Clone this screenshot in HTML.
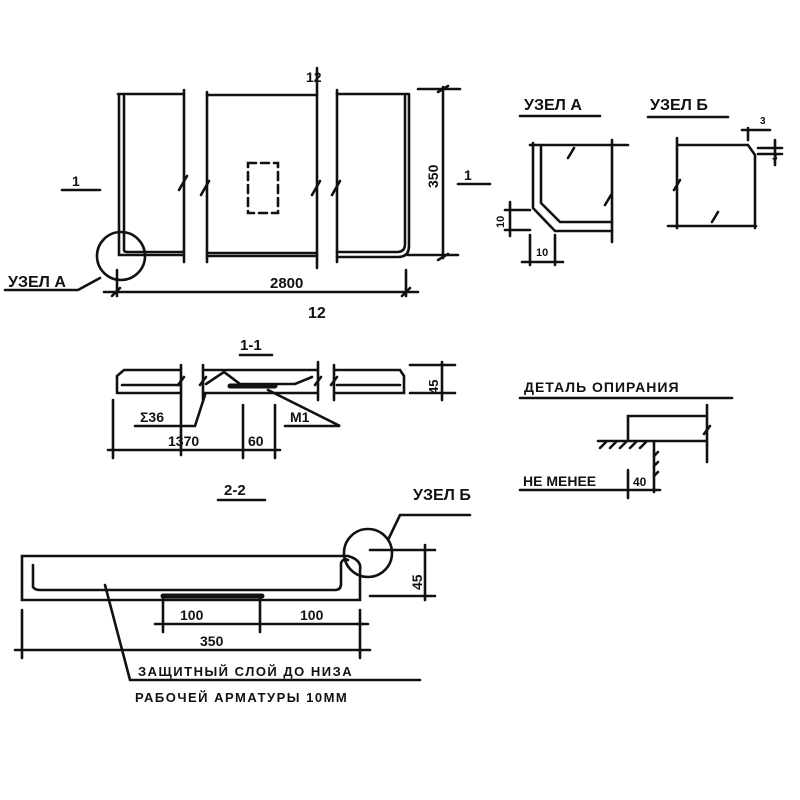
<!DOCTYPE html>
<html><head><meta charset="utf-8"><style>
html,body{margin:0;padding:0;background:#fff;}
svg{display:block}
text{font-family:"Liberation Sans","DejaVu Sans",sans-serif;font-weight:bold;fill:#111;}
</style></head><body>
<svg width="800" height="800" viewBox="0 0 800 800" xmlns="http://www.w3.org/2000/svg">
<g stroke="#111" stroke-width="2.6" fill="none" stroke-linecap="round">
<!-- PLAN -->
<path d="M118 94 H183 M119 94 V255 H183 M124 96 V250 Q124 252 128 252 H183"/>
<path d="M184 90 V262 M207 92 V262"/>
<path d="M207 95 H317 M207 253 H317 M207 256 H317"/>
<path d="M317 68 V268 M337 90 V262"/>
<path d="M337 94 H409 M409 94 V246 Q409 257 398 257 H337 M405 96 V244 Q405 252 397 252 H337"/>
<path d="M179 190 l8 -14 M201 195 l8 -14 M312 195 l8 -14 M332 195 l8 -14"/>
<path d="M248 163 h30 v50 h-30 z" stroke-dasharray="8 5"/>
<path d="M418 89 H460 M408 255 H458 M443 87 V258 M438 92 l10 -6 M438 260 l10 -6"/>
<circle cx="121" cy="256" r="24"/>
<path d="M100 278 L78 290 H5"/>
<path d="M117 270 V296 M406 270 V296 M104 292 H418 M112 296 l8 -8 M402 296 l8 -8"/>
<path d="M62 190 H100 M458 184 H490"/>
<!-- NODE A -->
<path d="M520 116 H600 M530 145 H628 M612 140 V242"/>
<path d="M533 143 V208 L555 231 H612 M541 145 V203 L560 222 H612"/>
<path d="M568 158 l6 -10 M605 205 l6 -10"/>
<path d="M505 210 H530 M505 230 H530 M510 202 V236 M530 235 V265 M555 235 V265 M522 262 H563"/>
<!-- NODE B -->
<path d="M648 117 H728 M677 138 V228 M677 145 H748 L755 155 V228 M668 226 H756"/>
<path d="M674 190 l6 -10 M712 222 l6 -10"/>
<path d="M748 140 V128 M742 130 H770 M758 148 H782 M758 154 H782 M775 140 V165"/>
<!-- SECTION 1-1 -->
<path d="M240 355 H272"/>
<path d="M117 393 V376 L124 370 H181 M117 393 H181 M122 385 H181 M181 365 V455"/>
<path d="M203 370 H318 M203 393 H318 M203 365 V400 M318 362 V400 M206 384 L224 372 L240 384 H295 L312 377"/>
<path d="M230 386 H275" stroke-width="5"/>
<path d="M334 370 H400 L404 376 V393 H334 M337 385 H400 M334 365 V400"/>
<path d="M178 385 l6 -8 M200 385 l6 -8 M315 385 l6 -8 M331 385 l6 -8"/>
<path d="M410 365 H455 M410 393 H455 M442 362 V400"/>
<path d="M135 426 H195 L205 395 M285 426 H340 L268 390"/>
<path d="M113 400 V458 M243 405 V458 M275 405 V458 M108 450 H280"/>
<!-- DETAIL -->
<path d="M520 398 H732 M628 441 V416 H707 V441 M598 441 H707 M707 405 V462 M654 441 V492"/>
<path d="M600 448 l6 -6 M610 448 l6 -6 M620 448 l6 -6 M630 448 l6 -6 M640 448 l6 -6 M658 452 l-4 4 M658 462 l-4 4 M658 472 l-4 4 M704 434 l6 -8"/>
<path d="M520 490 H660 M628 470 V498"/>
<!-- SECTION 2-2 -->
<path d="M218 500 H265"/>
<path d="M22 556 H348 Q362 560 360 570 V600 H22 Z"/>
<path d="M33 565 V587 Q35 590 40 590 H335 Q341 590 341 584 V563 Q343 558 348 560"/>
<path d="M163 596 H262" stroke-width="5"/>
<circle cx="368" cy="553" r="24"/>
<path d="M388 540 L400 515 H470"/>
<path d="M370 550 H435 M370 596 H435 M425 545 V600"/>
<path d="M163 596 V632 M260 596 V632 M360 610 V658 M155 624 H368 M22 610 V658 M15 650 H370"/>
<path d="M105 585 L130 680 H420"/>
</g>
<g font-size="15">
<text x="8" y="287" font-size="16">УЗЕЛ А</text>
<text x="270" y="288">2800</text>
<text x="308" y="318" font-size="16">12</text>
<text x="306" y="82" font-size="14">12</text>
<text x="72" y="186" font-size="14">1</text>
<text x="464" y="180" font-size="14">1</text>
<text transform="translate(438,188) rotate(-90)" font-size="14">350</text>
<text x="524" y="110" font-size="16">УЗЕЛ А</text>
<text x="650" y="110" font-size="16">УЗЕЛ Б</text>
<text transform="translate(504,228) rotate(-90)" font-size="11">10</text>
<text x="536" y="256" font-size="11">10</text>
<text x="760" y="124" font-size="10">3</text>
<text x="772" y="160" font-size="10">3</text>
<text x="240" y="350" font-size="15">1-1</text>
<text transform="translate(438,394) rotate(-90)" font-size="13">45</text>
<text x="140" y="422" font-size="14">Σ36</text>
<text x="290" y="422" font-size="14">М1</text>
<text x="168" y="446" font-size="14">1370</text>
<text x="248" y="446" font-size="14">60</text>
<text x="524" y="392" font-size="14" letter-spacing="1">ДЕТАЛЬ ОПИРАНИЯ</text>
<text x="523" y="486" font-size="14">НЕ МЕНЕЕ</text>
<text x="633" y="486" font-size="12">40</text>
<text x="224" y="495" font-size="15">2-2</text>
<text x="413" y="500" font-size="16">УЗЕЛ Б</text>
<text transform="translate(422,590) rotate(-90)" font-size="14">45</text>
<text x="180" y="620" font-size="14">100</text>
<text x="300" y="620" font-size="14">100</text>
<text x="200" y="646" font-size="14">350</text>
<text x="138" y="676" font-size="13" letter-spacing="1.5">ЗАЩИТНЫЙ СЛОЙ ДО НИЗА</text>
<text x="135" y="702" font-size="13" letter-spacing="1.5">РАБОЧЕЙ  АРМАТУРЫ 10ММ</text>
</g>
</svg>
</body></html>
